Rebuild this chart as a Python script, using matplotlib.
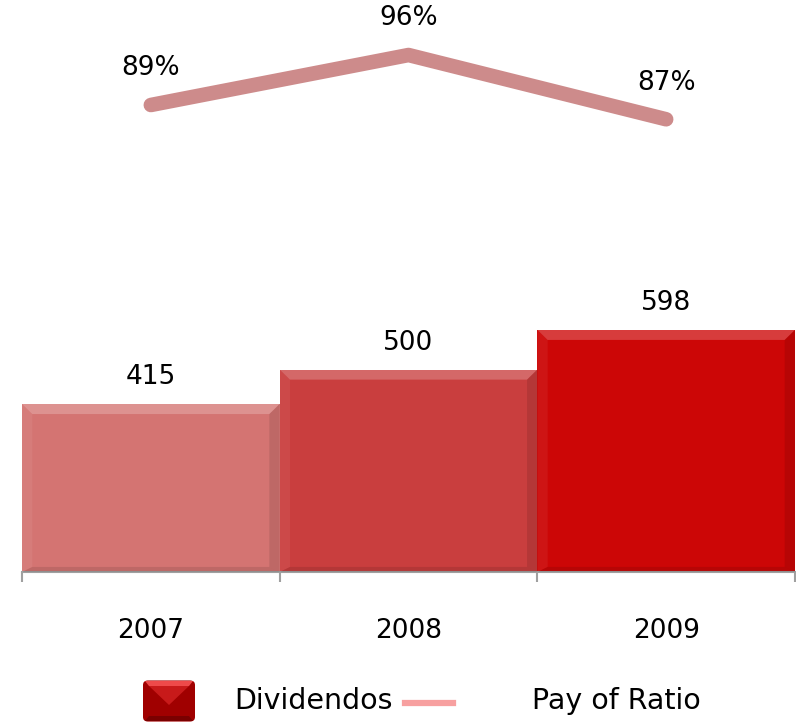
import matplotlib
matplotlib.use("Agg")
import matplotlib.pyplot as plt
from matplotlib.patches import Polygon, FancyBboxPatch
from matplotlib.lines import Line2D

years = ["2007", "2008", "2009"]
dividendos = [415, 500, 598]
payout = [89, 96, 87]
payout_labels = ["89%", "96%", "87%"]
bar_colors = ["#D47472", "#C93E3E", "#CC0606"]
line_color = "#CD8B8B"
legend_labels = ["Dividendos", "Pay of Ratio"]

plt.rcParams['font.family'] = ['DejaVu Sans']

fig = plt.figure(figsize=(7.96, 7.25), dpi=100)
ax = fig.add_axes([22/796, 153/725, 773/796, 552/725])
ax2 = ax.twinx()

x = list(range(len(years)))
ax.bar(x, dividendos, width=1.0, color=bar_colors, zorder=2)

ax.set_xlim(-0.5, 2.5)
ax.set_ylim(0, 552/0.405)

# bevel effect
bx = 0.04
by = 25
for xi, v, c in zip(x, dividendos, bar_colors):
    x0, x1 = xi - 0.5, xi + 0.5
    top = Polygon([(x0, v), (x1, v), (x1 - bx, v - by), (x0 + bx, v - by)],
                  closed=True, facecolor="white", alpha=0.22, edgecolor="none", zorder=3)
    left = Polygon([(x0, v), (x0 + bx, v - by), (x0 + bx, by * 0.5), (x0, 0)],
                   closed=True, facecolor="white", alpha=0.06, edgecolor="none", zorder=3)
    right = Polygon([(x1, v), (x1 - bx, v - by), (x1 - bx, by * 0.5), (x1, 0)],
                    closed=True, facecolor="black", alpha=0.10, edgecolor="none", zorder=3)
    bottom = Polygon([(x0, 0), (x1, 0), (x1 - bx, by * 0.5), (x0 + bx, by * 0.5)],
                     closed=True, facecolor="black", alpha=0.10, edgecolor="none", zorder=3)
    for p in (top, left, right, bottom):
        ax.add_patch(p)
    ax.annotate(str(v), (xi, v), xytext=(0, 10), textcoords="offset points",
                ha="center", va="bottom", fontsize=19, color="black")

ax2.plot(x, payout, color=line_color, linewidth=10.5, solid_capstyle="round",
         solid_joinstyle="round", zorder=4)
ax2.set_ylim(89 - 467/7.14, 89 + 85/7.14)
for xi, v, lab in zip(x, payout, payout_labels):
    ax2.annotate(lab, (xi, v), xytext=(0, 17), textcoords="offset points",
                 ha="center", va="bottom", fontsize=19, color="black",
                 annotation_clip=False)

for a in (ax, ax2):
    for s in ("top", "right", "left"):
        a.spines[s].set_visible(False)
    a.set_yticks([])
ax2.spines["bottom"].set_visible(False)
ax.spines["bottom"].set_color("#A0A0A0")
ax.spines["bottom"].set_linewidth(1.5)

ax.set_xticks(x)
ax.set_xticklabels(years, fontsize=19)
ax.tick_params(axis="x", which="major", length=0, pad=33)
ax.set_xticks([-0.5, 0.5, 1.5, 2.5], minor=True)
ax.tick_params(axis="x", which="minor", length=7, width=1.5, color="#A0A0A0")

# legend (manual placement)
W, H = 796, 725
def fp(px, py):
    return (px/W, 1 - py/H)
sq_x0, sq_x1, sq_y0, sq_y1 = 143, 195, 680, 722
r = 5
fig.add_artist(FancyBboxPatch(fp(sq_x0 + r, sq_y1 - r), (sq_x1 - sq_x0 - 2*r)/W,
                              (sq_y1 - sq_y0 - 2*r)/H,
                              boxstyle=f"round,pad={r/W}", transform=fig.transFigure,
                              facecolor="#A00000", edgecolor="none"))
b = 6
cx, cy = (sq_x0 + sq_x1)/2, (sq_y0 + sq_y1)/2 + 4
fig.add_artist(Polygon([fp(sq_x0 + 2, sq_y0 + 1), fp(sq_x1 - 2, sq_y0 + 1),
                        fp(sq_x1 - b, sq_y0 + b), fp(sq_x0 + b, sq_y0 + b)],
                       closed=True, transform=fig.transFigure,
                       facecolor="#EE4A4A", edgecolor="none"))
fig.add_artist(Polygon([fp(sq_x0 + b, sq_y0 + b), fp(sq_x1 - b, sq_y0 + b), fp(cx, cy)],
                       closed=True, transform=fig.transFigure,
                       facecolor="#C81A1A", edgecolor="none"))
fig.add_artist(Polygon([fp(sq_x0 + 2, sq_y1 - 1), fp(sq_x1 - 2, sq_y1 - 1),
                        fp(sq_x1 - b, sq_y1 - b), fp(sq_x0 + b, sq_y1 - b)],
                       closed=True, transform=fig.transFigure,
                       facecolor="#7A0000", edgecolor="none"))
fig.add_artist(Line2D([405/W, 453/W], [1 - 703/H, 1 - 703/H], transform=fig.transFigure,
                      color="#F7A0A0", linewidth=4.5))
fig.text(234/W, 1 - 701/H, legend_labels[0], fontsize=20.5, ha="left", va="center")
fig.text(532/W, 1 - 701/H, legend_labels[1], fontsize=20.5, ha="left", va="center")

fig.savefig("out.png", dpi=100)
